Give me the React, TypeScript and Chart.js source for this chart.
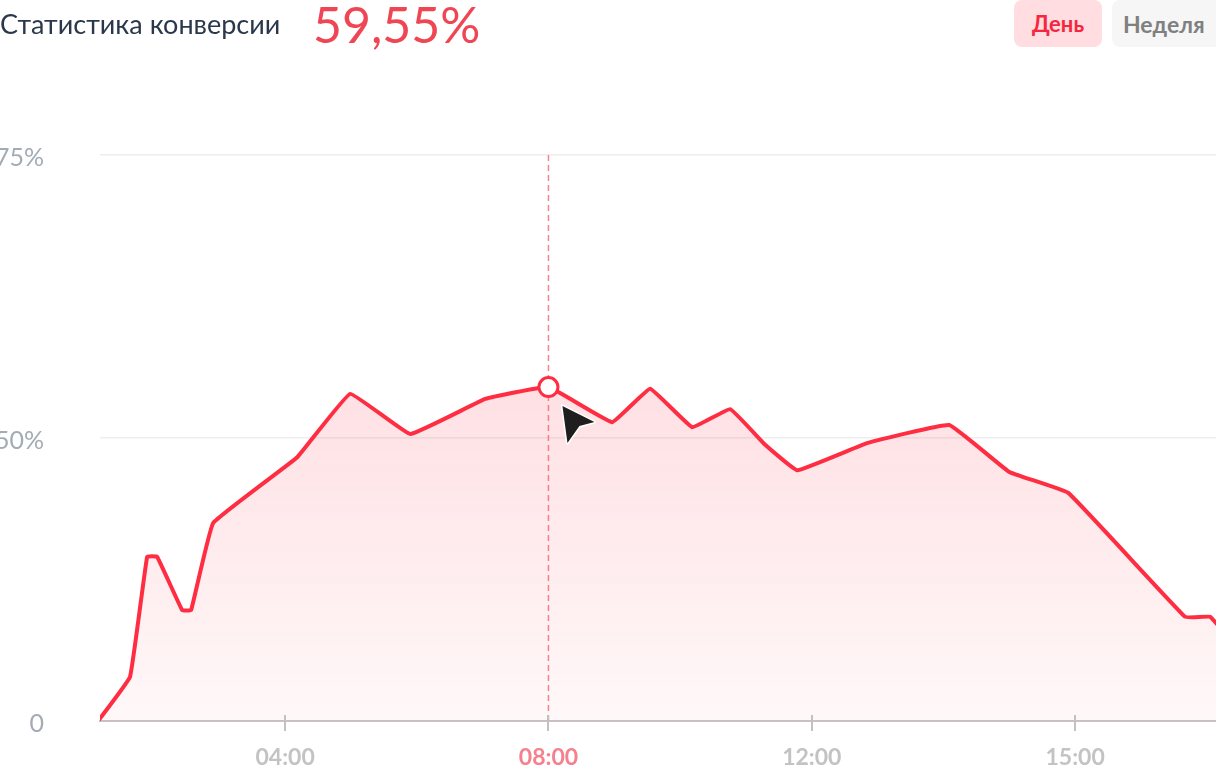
import React, { useEffect, useRef } from "react";
import { Chart, registerables } from "chart.js";

Chart.register(...registerables);

const title = "Статистика конверсии";
const headlineValue = "59,55%";
const periodButtons = ["День", "Неделя"];

const xTickLabels = ["04:00", "08:00", "12:00", "15:00"];
const xTickPositions = [1, 2, 3, 4];
const highlightTick = 2;

const yTickValues = [0, 50, 100];
const yTickLabels = ["0", "50%", "75%"];

const pointX = [0.29, 0.411, 0.476, 0.514, 0.609, 0.643, 0.727, 1.046, 1.247, 1.475, 1.76, 2.0, 2.242, 2.386, 2.546, 2.69, 2.823, 2.945, 3.21, 3.522, 3.75, 3.974, 4.418, 4.513, 4.589];
const pointY = [0, 7.8, 29.0, 29.0, 19.6, 19.6, 35.0, 46.6, 57.8, 50.7, 56.9, 59.0, 52.8, 58.7, 51.9, 55.1, 48.8, 44.3, 49.1, 52.3, 44.0, 40.3, 18.4, 18.4, 14.3];
const highlightIndex = 11;

const RED = "#ff2d42";

const overlayPlugin = {
  id: "overlay",
  beforeDatasetsDraw(chart: any) {
    const { ctx, chartArea, scales } = chart;
    const x = scales.x.getPixelForValue(highlightTick);
    ctx.save();
    ctx.strokeStyle = "rgba(245,110,125,0.85)";
    ctx.lineWidth = 1.5;
    ctx.setLineDash([6, 4]);
    ctx.beginPath();
    ctx.moveTo(x, chartArea.top);
    ctx.lineTo(x, chartArea.bottom);
    ctx.stroke();
    ctx.restore();
  },
  afterDraw(chart: any) {
    const { ctx, chartArea, scales } = chart;
    ctx.save();
    ctx.strokeStyle = "#c4c0c2";
    ctx.lineWidth = 2;
    xTickPositions.forEach((v) => {
      const x = Math.round(scales.x.getPixelForValue(v));
      ctx.beginPath();
      ctx.moveTo(x, chartArea.bottom - 6);
      ctx.lineTo(x, chartArea.bottom + 10);
      ctx.stroke();
    });
    const meta = chart.getDatasetMeta(0);
    const p = meta.data[highlightIndex];
    if (p) {
      const px = p.x;
      const py = p.y;
      ctx.beginPath();
      ctx.moveTo(px + 14, py + 19);
      ctx.lineTo(px + 46, py + 35);
      ctx.lineTo(px + 31, py + 39);
      ctx.lineTo(px + 19, py + 56);
      ctx.closePath();
      ctx.lineJoin = "round";
      ctx.strokeStyle = "#ffffff";
      ctx.lineWidth = 3;
      ctx.stroke();
      ctx.fillStyle = "#1e1e1e";
      ctx.fill();
    }
    ctx.restore();
  },
};

export default function App() {
  const canvasRef = useRef<HTMLCanvasElement | null>(null);

  useEffect(() => {
    document.body.style.margin = "0";
    const canvas = canvasRef.current;
    if (!canvas) return;
    const data = pointX.map((x, i) => ({ x, y: pointY[i] }));
    const chart = new Chart(canvas, {
      type: "line",
      data: {
        datasets: [
          {
            data,
            borderColor: RED,
            borderWidth: 4,
            tension: 0.08,
            borderJoinStyle: "round",
            borderCapStyle: "round",
            fill: "origin",
            backgroundColor: (c: any) => {
              const area = c.chart.chartArea;
              if (!area) return "rgba(255,60,80,0.1)";
              const g = c.chart.ctx.createLinearGradient(0, area.top + 230, 0, area.bottom);
              g.addColorStop(0, "rgba(252,70,90,0.17)");
              g.addColorStop(1, "rgba(252,70,90,0.04)");
              return g;
            },
            pointRadius: (c: any) => (c.dataIndex === highlightIndex ? 9.5 : 0),
            pointHoverRadius: (c: any) => (c.dataIndex === highlightIndex ? 9.5 : 0),
            pointBackgroundColor: "#ffffff",
            pointBorderColor: RED,
            pointBorderWidth: 3,
          } as any,
        ],
      },
      options: {
        animation: false,
        responsive: false,
        devicePixelRatio: 1,
        events: [],
        layout: { padding: { top: 155, left: 0, right: 0, bottom: 0 }, autoPadding: false } as any,
        plugins: { legend: { display: false }, tooltip: { enabled: false } },
        scales: {
          x: {
            type: "linear",
            min: 0.297,
            max: 4.535,
            afterBuildTicks: (axis: any) => {
              axis.ticks = xTickPositions.map((v) => ({ value: v }));
            },
            afterFit: (axis: any) => {
              axis.height = 51;
              axis.paddingLeft = 0;
              axis.paddingRight = 0;
            },
            grid: { display: false, drawTicks: false },
            border: { display: true, color: "#c9c3c5", width: 2 },
            ticks: {
              autoSkip: false,
              maxRotation: 0,
              padding: 23,
              font: { family: "Lato", size: 23, weight: "bold" },
              color: (c: any) => (c.tick && c.tick.value === highlightTick ? "#f5808e" : "#c3c3c3"),
              callback: (v: any) => {
                const i = xTickPositions.indexOf(v);
                return i >= 0 ? xTickLabels[i] : "";
              },
            },
          },
          y: {
            type: "linear",
            min: 0,
            max: 100,
            afterBuildTicks: (axis: any) => {
              axis.ticks = yTickValues.map((v) => ({ value: v }));
            },
            afterFit: (axis: any) => {
              axis.width = 100;
              axis.paddingTop = 0;
              axis.paddingBottom = 0;
            },
            grid: {
              drawTicks: false,
              color: (c: any) => (c.tick && c.tick.value === 0 ? "rgba(0,0,0,0)" : "#eeeeee"),
              lineWidth: 1.5,
            },
            border: { display: false },
            ticks: {
              padding: 56,
              labelOffset: 3,
              font: { family: "Lato", size: 25 },
              color: "#a3abb5",
              callback: (v: any) => {
                const i = yTickValues.indexOf(v);
                return i >= 0 ? yTickLabels[i] : "";
              },
            },
          },
        },
      } as any,
      plugins: [overlayPlugin],
    });
    return () => chart.destroy();
  }, []);

  return (
    <div style={{ position: "fixed", left: 0, top: 0, width: 1216, height: 772, overflow: "hidden", background: "#fff" }}>
      <canvas ref={canvasRef} width={1216} height={772} style={{ position: "absolute", left: 0, top: 0, width: 1216, height: 772 }} />
      <div style={{ position: "absolute", left: 0, top: 6, fontFamily: "Lato", fontSize: 27, color: "#2b384c", lineHeight: "36px", whiteSpace: "nowrap" }}>
        {title}
      </div>
      <div style={{ position: "absolute", left: 313, top: -5, fontFamily: "Lato", fontSize: 50, color: "#ef4654", lineHeight: "58px", whiteSpace: "nowrap" }}>
        {headlineValue}
      </div>
      <div style={{ position: "absolute", left: 1014, top: 0, width: 88, height: 47, borderRadius: 8, background: "#ffdde0", color: "#f7263f", fontFamily: "Lato", fontWeight: 700, fontSize: 22, display: "flex", alignItems: "center", justifyContent: "center" }}>
        {periodButtons[0]}
      </div>
      <div style={{ position: "absolute", left: 1112, top: 0, width: 112, height: 47, borderRadius: 8, background: "#f6f6f6", color: "#808080", fontFamily: "Lato", fontWeight: 700, fontSize: 23, display: "flex", alignItems: "center", paddingLeft: 11, boxSizing: "border-box" }}>
        {periodButtons[1]}
      </div>
    </div>
  );
}
